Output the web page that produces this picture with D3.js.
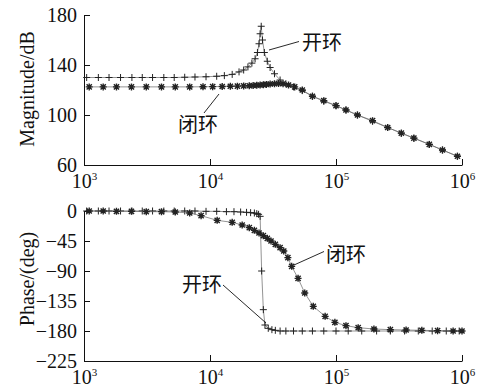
<!DOCTYPE html>
<html>
<head>
<meta charset="utf-8">
<script src="https://cdn.jsdelivr.net/npm/d3@7"></script>
<style>
  body { margin: 0; background: #fff; }
</style>
</head>
<body>
<div id="chart"></div>
<script>
// ---- data ----
// magnitude, open loop (+)
const magOpenFreq = [1050, 1300, 1580, 1950, 2400, 2900, 3500, 4300, 5200, 6300, 7600, 9300, 11300, 13000, 15000, 17000, 18500, 20000, 21500, 22800, 23800, 24500, 25000, 25500, 26100, 27000, 28500, 30000, 32500, 36000, 40000, 46000, 54000, 65000, 80000, 100000, 120000, 148000, 195000, 257000, 330000, 415000, 550000, 700000, 920000];
const magOpen = [130, 130, 130, 130, 130, 130, 130, 130, 130, 130.2, 130.4, 130.6, 131, 131.5, 132.5, 134.5, 136, 138.5, 141.5, 145, 150, 157, 165, 171, 160, 150, 143, 138, 133, 128, 125, 122.5, 119.5, 115, 111, 107.5, 104, 100, 95, 90, 85.5, 81.5, 76.5, 72, 67];
// magnitude, closed loop (*)
const magClosedFreq = [1100, 1420, 1810, 2380, 3120, 4120, 5300, 6900, 8800, 10500, 12500, 14500, 16500, 18500, 20500, 22000, 23500, 25000, 26500, 28000, 30000, 32500, 35000, 38000, 42000, 47000, 54000, 65000, 80000, 100000, 120000, 148000, 195000, 257000, 330000, 415000, 550000, 700000, 920000];
const magClosed = [122.5, 122.5, 122.5, 122.5, 122.5, 122.5, 122.5, 122.5, 122.6, 122.7, 122.8, 123, 123.1, 123.3, 123.4, 123.6, 123.8, 124, 124.2, 124.5, 124.8, 125, 125.2, 125, 124, 122.5, 120, 115, 111.5, 107.5, 104, 100, 95.5, 90, 85.5, 81.5, 76.5, 72, 67];
// phase, open loop (+)
const phOpenFreq = [1050, 1300, 1580, 1950, 2400, 2900, 3500, 4300, 5200, 6300, 7600, 9300, 11300, 13500, 15500, 17500, 19500, 21000, 22500, 23500, 24300, 25000, 25700, 26500, 27300, 29000, 31000, 33000, 36000, 40000, 46000, 54000, 65000, 80000, 100000, 125000, 160000, 210000, 270000, 350000, 450000, 580000, 750000, 950000];
const phOpen = [0, 0, 0, 0, 0, 0, 0, 0, 0, 0, 0, -0.5, -0.5, -1, -1, -1.5, -2, -2.5, -3, -4, -5, -8, -90, -148, -171, -176, -178, -179, -180, -180, -180, -180, -180, -180, -180, -180, -180, -180, -180, -180, -180, -180, -180, -180];
// phase, closed loop (*)
const phClosedFreq = [1100, 1420, 1810, 2380, 3120, 4120, 5300, 6900, 8500, 11400, 15000, 18000, 20500, 22500, 24500, 26500, 28500, 30500, 33000, 36000, 38500, 41500, 44500, 50000, 56500, 66000, 82000, 98000, 120000, 150000, 200000, 270000, 360000, 480000, 640000, 850000, 1000000];
const phClosed = [0, 0, -0.5, -0.5, -1, -1, -1.5, -3, -7, -14, -17, -21, -25, -29, -33, -37, -41, -45, -50, -55, -60, -70, -83, -101, -123, -143, -158, -167, -172, -175, -177, -178, -178.5, -179, -179.5, -180, -180];

const xTicks = [1e3, 1e4, 1e5, 1e6];
const magTicks = [60, 100, 140, 180];
const phTicks = [0, -45, -90, -135, -180, -225];

const width = 482, height = 388;
const serif = "'Liberation Serif', 'Times New Roman', 'DejaVu Serif', serif";
const cjk = "'Noto Sans CJK SC', sans-serif";

const svg = d3.select('#chart')
  .append('svg')
  .attr('width', width)
  .attr('height', height);

const x = d3.scaleLog().domain([1e3, 1e6]).range([84, 462]);
const yMag = d3.scaleLinear().domain([60, 180]).range([165, 15]);
const yPh = d3.scaleLinear().domain([-225, 0]).range([361, 211]);

const plusPath = 'M-3.5,0H3.5M0,-3.5V3.5';
const starPath = 'M-3.5,0H3.5M0,-3.5V3.5M-2.6,-2.6L2.6,2.6M-2.6,2.6L2.6,-2.6';

function drawAxes(y, ticks, title, titleY) {
  const xAxis = d3.axisBottom(x).tickValues(xTicks).tickSizeInner(-6).tickSizeOuter(0).tickPadding(8);
  const gx = svg.append('g')
    .attr('transform', `translate(0,${y.range()[0]})`)
    .call(xAxis)
    .attr('font-family', serif)
    .attr('font-size', 20);
  gx.selectAll('text')
    .attr('dy', '0.75em')
    .each(function (d) {
      const t = d3.select(this);
      t.text('');
      t.append('tspan').text('10');
      t.append('tspan').attr('dy', '-8').attr('font-size', 11).text(Math.round(Math.log10(d)));
    });

  const yAxis = d3.axisLeft(y).tickValues(ticks).tickSizeInner(-6).tickSizeOuter(0).tickPadding(7)
    .tickFormat(d => d < 0 ? '\u2212' + Math.abs(d) : d);
  svg.append('g')
    .attr('transform', 'translate(84,0)')
    .call(yAxis)
    .attr('font-family', serif)
    .attr('font-size', 20);

  svg.selectAll('.domain, .tick line').attr('stroke', '#111').attr('stroke-width', 1);
  svg.selectAll('.tick text').attr('fill', '#111');

  svg.append('text')
    .attr('transform', `translate(27,${titleY}) rotate(-90)`)
    .attr('text-anchor', 'middle')
    .attr('dy', '0.35em')
    .attr('font-family', serif)
    .attr('font-size', 20)
    .attr('fill', '#111')
    .text(title);
}

function drawSeries(freqs, vals, y, shape, sw) {
  const pts = freqs.map((f, i) => [f, vals[i]]);
  const line = d3.line().x(d => x(d[0])).y(d => y(d[1]));
  svg.append('path')
    .datum(pts)
    .attr('d', line)
    .attr('fill', 'none')
    .attr('stroke', '#666')
    .attr('stroke-width', 0.7);
  svg.append('g')
    .selectAll('path')
    .data(pts)
    .enter()
    .append('path')
    .attr('d', shape)
    .attr('transform', d => `translate(${x(d[0])},${y(d[1])})`)
    .attr('fill', 'none')
    .attr('stroke', '#222')
    .attr('stroke-width', sw);
}

function label(txt, tx, ty, x1, y1, x2, y2) {
  svg.append('line')
    .attr('x1', x1).attr('y1', y1).attr('x2', x2).attr('y2', y2)
    .attr('stroke', '#111').attr('stroke-width', 0.9);
  svg.append('text')
    .attr('x', tx).attr('y', ty)
    .attr('dy', '0.35em')
    .attr('font-family', cjk)
    .attr('font-size', 20)
    .attr('fill', '#111')
    .text(txt);
}

drawAxes(yMag, magTicks, 'Magnitude/dB', 89);
drawAxes(yPh, phTicks, 'Phase/(deg)', 279);

drawSeries(magOpenFreq, magOpen, yMag, plusPath, 1);
drawSeries(magClosedFreq, magClosed, yMag, starPath, 1.4);
drawSeries(phOpenFreq, phOpen, yPh, plusPath, 1);
drawSeries(phClosedFreq, phClosed, yPh, starPath, 1.4);

// annotations
label('开环', 302, 43, 269, 50, 299, 41.5);
label('闭环', 178, 125, 204, 113, 219, 94);
label('闭环', 326, 255, 294, 265, 324, 251.5);
label('开环', 182, 285, 223, 285, 266, 323);
</script>
</body>
</html>
